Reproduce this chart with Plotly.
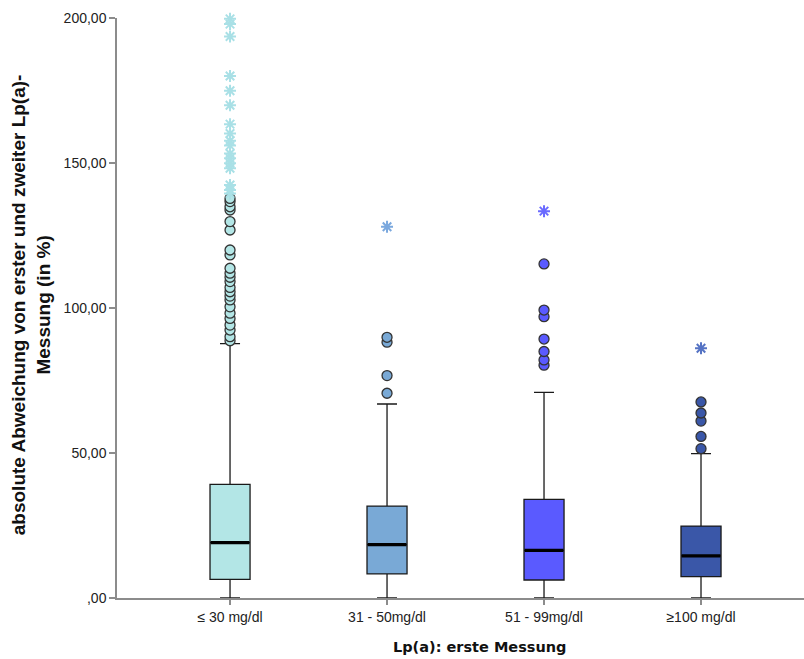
import plotly.graph_objects as go

# Gruppen der ersten Lp(a)-Messung
categories = ["≤ 30 mg/dl", "31 - 50mg/dl", "51 - 99mg/dl", "≥100 mg/dl"]

# Kennwerte der Boxplots (in %)
q1 = [6.4, 8.3, 6.2, 7.4]
median = [19.1, 18.4, 16.4, 14.5]
q3 = [39.2, 31.7, 34.0, 24.8]
lower_whisker = [0.0, 0.0, 0.0, 0.0]
upper_whisker = [87.7, 66.9, 70.9, 49.8]

# Ausreißer (Kreise) und Extremwerte (Sterne)
outliers = [
    [88.7, 90.1, 92.4, 94.1, 96.4, 98.2, 100.4, 102.8, 104.1, 105.6, 107.1,
     109.1, 110.6, 112.0, 113.7, 118.3, 120.0, 126.9, 129.8, 133.8, 134.9,
     136.7, 137.8],
    [70.6, 76.7, 88.2, 89.9],
    [80.3, 82.1, 85.0, 89.3, 97.0, 99.3, 115.2],
    [51.5, 55.7, 61.0, 63.8, 67.6],
]
extremes = [
    [139.5, 140.7, 142.4, 148.2, 149.9, 151.6, 153.3, 156.0, 157.7, 160.2,
     163.4, 169.9, 174.9, 180.0, 193.6, 197.9, 199.7],
    [128.0],
    [133.4],
    [86.1],
]

y_tickvals = [0, 50, 100, 150, 200]
y_ticktext = [",00", "50,00", "100,00", "150,00", "200,00"]

box_colors = ["#b3e6e6", "#79a9d6", "#5a5aff", "#3a57a8"]
star_colors = ["#a9e0e6", "#7aa8de", "#6a6aff", "#5573c4"]
box_width = 0.255

fig = go.Figure()

for i, name in enumerate(categories):
    fig.add_trace(go.Box(
        x=[i], q1=[q1[i]], median=[median[i]], q3=[q3[i]],
        lowerfence=[lower_whisker[i]], upperfence=[upper_whisker[i]],
        width=box_width, whiskerwidth=0.5,
        fillcolor=box_colors[i],
        line=dict(color="#1a1a1a", width=1.3),
        boxpoints=False, name=name, showlegend=False, hoverinfo="skip",
    ))
    # dicker Medianstrich
    fig.add_trace(go.Scatter(
        x=[i - box_width / 2 + 0.004, i + box_width / 2 - 0.004],
        y=[median[i], median[i]],
        mode="lines", line=dict(color="black", width=3.2),
        showlegend=False, hoverinfo="skip",
    ))
    fig.add_trace(go.Scatter(
        x=[i] * len(outliers[i]), y=outliers[i], mode="markers",
        marker=dict(symbol="circle", size=10, color=box_colors[i],
                    line=dict(color="#333333", width=1.3)),
        showlegend=False, hoverinfo="skip", cliponaxis=False,
    ))
    fig.add_trace(go.Scatter(
        x=[i] * len(extremes[i]), y=extremes[i], mode="markers",
        marker=dict(symbol="asterisk-open", size=10, color=star_colors[i],
                    line=dict(color=star_colors[i], width=2)),
        showlegend=False, hoverinfo="skip", cliponaxis=False,
    ))

font_family = "Liberation Sans, Arial, sans-serif"

fig.update_layout(
    width=804, height=659,
    margin=dict(l=117, r=0, t=18, b=61),
    paper_bgcolor="white", plot_bgcolor="white",
    font=dict(family=font_family, size=14, color="#222222"),
    xaxis=dict(
        range=[-0.72, 3.656], tickmode="array",
        tickvals=list(range(len(categories))), ticktext=categories,
        showline=True, linecolor="#8c8c8c", linewidth=1.5,
        ticks="outside", ticklen=5, tickcolor="#8c8c8c", tickwidth=1.5,
        showgrid=False, zeroline=False,
        tickfont=dict(size=14, color="#222222"),
    ),
    yaxis=dict(
        range=[0, 200], tickmode="array",
        tickvals=y_tickvals, ticktext=y_ticktext,
        showline=True, linecolor="#8c8c8c", linewidth=1.5,
        ticks="outside", ticklen=6, tickcolor="#8c8c8c", tickwidth=1.5,
        showgrid=False, zeroline=False,
        tickfont=dict(size=14, color="#222222"),
    ),
    annotations=[
        dict(text="<b>absolute Abweichung von erster und zweiter Lp(a)-<br>Messung (in %)</b>",
             xref="paper", yref="paper", x=-0.125, y=0.505,
             xanchor="center", yanchor="middle", textangle=-90,
             showarrow=False, font=dict(size=19, color="#111111")),
        dict(text="<b>Lp(a): erste Messung</b>",
             xref="paper", yref="paper", x=0.527, y=-0.085,
             xanchor="center", yanchor="middle",
             showarrow=False,
             font=dict(family="DejaVu Sans, sans-serif", size=14.5, color="#111111")),
    ],
)

fig.write_html("out.html")
